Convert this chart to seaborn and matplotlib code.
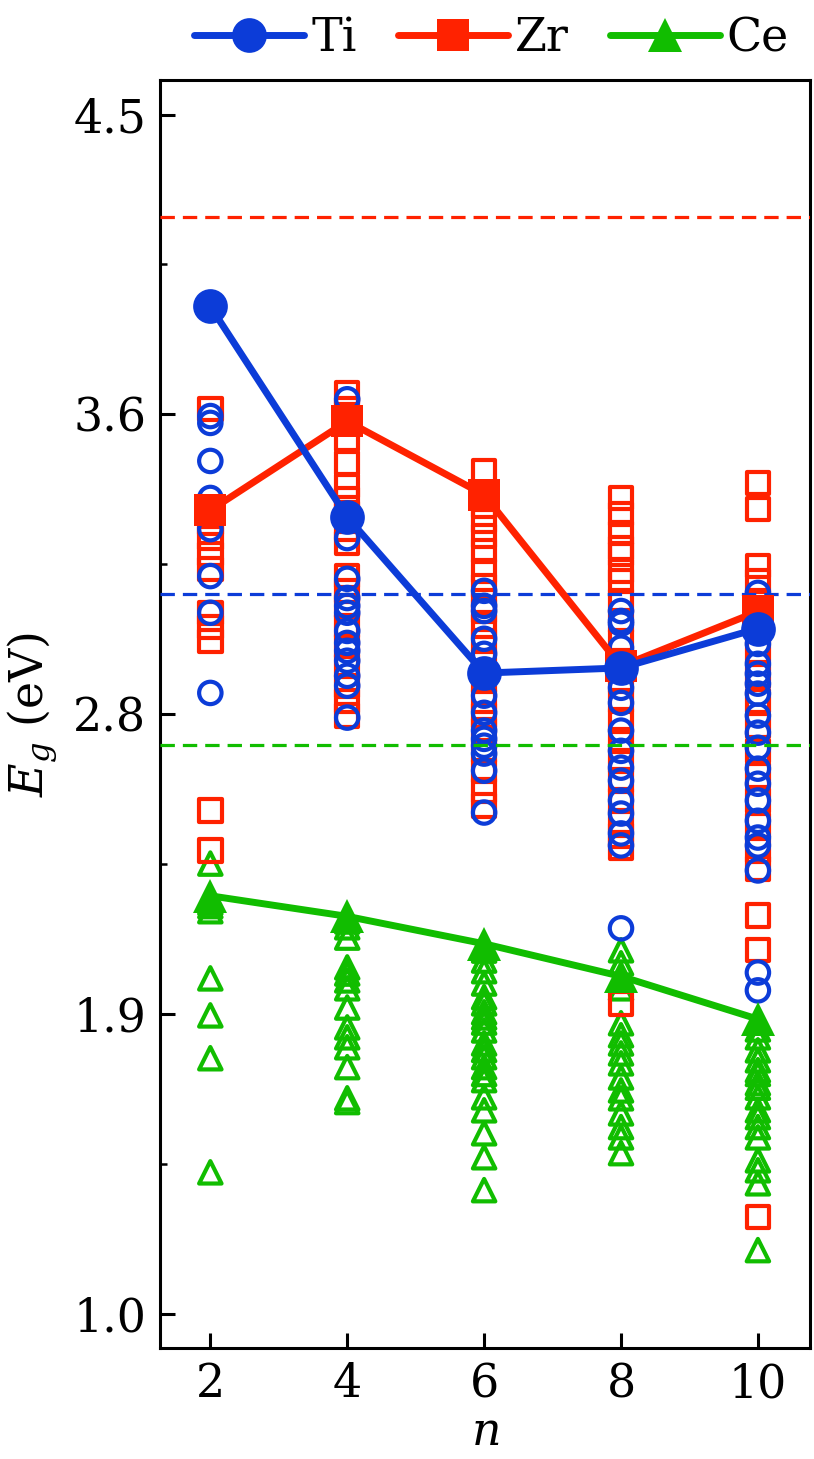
import numpy as np
import pandas as pd
import seaborn as sns
import matplotlib.pyplot as plt
from matplotlib.ticker import AutoMinorLocator, FormatStrFormatter

# %%
n_values = [2, 4, 6, 8, 10]

# lowest-energy structures (filled markers + line)
ti_best = [3.94, 3.325, 2.87, 2.885, 3.00]
zr_best = [3.345, 3.605, 3.39, 2.89, 3.05]
ce_best = [2.22, 2.16, 2.08, 1.985, 1.86]

# all sampled structures (open markers)
ti_all = {
    2: [3.62, 3.60, 3.489, 3.381, 3.29, 3.153, 3.046, 2.812],
    4: [3.669, 3.264, 3.145, 3.089, 3.066, 3.046, 2.993, 2.958, 2.935,
        2.906, 2.862, 2.833, 2.74],
    6: [3.11, 3.066, 3.051, 2.97, 2.926, 2.868, 2.804, 2.754, 2.702,
        2.678, 2.658, 2.635, 2.585, 2.463],
    8: [3.051, 3.022, 3.014, 2.944, 2.885, 2.827, 2.783, 2.702, 2.643,
        2.594, 2.556, 2.498, 2.46, 2.402, 2.367, 2.125],
    10: [3.104, 2.999, 2.955, 2.897, 2.868, 2.839, 2.81, 2.746, 2.696,
         2.652, 2.591, 2.547, 2.498, 2.439, 2.39, 2.367, 2.294, 1.996, 1.944],
}
zr_all = {
    2: [3.64, 3.308, 3.264, 3.218, 3.174, 3.046, 3.005, 2.964, 2.469, 2.352],
    4: [3.687, 3.64, 3.553, 3.483, 3.416, 3.378, 3.337, 3.29, 3.25, 3.153,
        3.11, 3.066, 3.008, 2.949, 2.891, 2.833, 2.789, 2.746],
    6: [3.459, 3.357, 3.314, 3.27, 3.226, 3.168, 3.124, 3.081, 3.051, 3.008,
        2.964, 2.906, 2.847, 2.789, 2.746, 2.702, 2.643, 2.585, 2.527, 2.483],
    8: [3.381, 3.334, 3.279, 3.235, 3.218, 3.168, 3.139, 3.081, 3.022,
        2.964, 2.906, 2.847, 2.789, 2.731, 2.673, 2.614, 2.556, 2.498,
        2.439, 2.396, 2.361, 1.906],
    10: [3.425, 3.349, 3.183, 3.139, 3.081, 3.008, 2.935, 2.862, 2.789,
         2.717, 2.643, 2.571, 2.498, 2.425, 2.352, 2.30, 2.163, 2.061, 1.282],
}
ce_all = {
    2: [2.314, 2.20, 2.19, 2.175, 1.979, 1.871, 1.746, 1.413],
    4: [2.145, 2.128, 2.098, 2.011, 1.993, 1.973, 1.95, 1.894, 1.836,
        1.807, 1.778, 1.72, 1.629, 1.618],
    6: [2.06, 2.031, 2.00, 1.964, 1.924, 1.906, 1.88, 1.865, 1.85, 1.827,
        1.789, 1.77, 1.749, 1.72, 1.70, 1.682, 1.632, 1.594, 1.527, 1.457, 1.361],
    8: [2.061, 2.023, 1.95, 1.848, 1.813, 1.789, 1.76, 1.731, 1.69, 1.652,
        1.629, 1.585, 1.545, 1.515, 1.469],
    10: [1.83, 1.807, 1.769, 1.74, 1.711, 1.70, 1.673, 1.66, 1.632, 1.594,
         1.574, 1.545, 1.515, 1.448, 1.419, 1.381, 1.186],
}

# reference gaps (dashed lines)
ti_ref = 3.10
zr_ref = 4.20
ce_ref = 2.66

blue = "#0c3cd8"
red = "#ff2200"
green = "#11bd00"


# %%
def to_long(points):
    rows = [(n, e) for n, vals in points.items() for e in vals]
    return pd.DataFrame(rows, columns=["n", "Eg"])


sns.set_style("ticks")
plt.rcParams["font.family"] = ["DejaVu Serif"]
plt.rcParams["mathtext.fontset"] = "dejavuserif"
for key in ["text.color", "axes.labelcolor", "xtick.color", "ytick.color", "axes.edgecolor"]:
    plt.rcParams[key] = "black"
fs = 33

fig = plt.figure(figsize=(8.14, 14.59), dpi=100)
ax = fig.add_axes([0.197, 0.076, 0.798, 0.869])

# open markers: every structure
for points, mk, col in [(ce_all, "^", green), (zr_all, "s", red), (ti_all, "o", blue)]:
    sns.scatterplot(
        data=to_long(points), x="n", y="Eg", ax=ax, marker=mk, s=260,
        facecolor="none", edgecolor=col, linewidth=3.0, zorder=2,
    )

# dashed reference lines
for ref, col in [(zr_ref, red), (ti_ref, blue), (ce_ref, green)]:
    ax.axhline(ref, color=col, ls=(0, (4.5, 2.5)), lw=2.3, zorder=3)

# lowest-energy lines
best = pd.DataFrame({"n": n_values, "Ti": ti_best, "Zr": zr_best, "Ce": ce_best})
for name, mk, col, ms in [("Zr", "s", red, 23), ("Ti", "o", blue, 25), ("Ce", "^", green, 25)]:
    sns.lineplot(
        data=best, x="n", y=name, ax=ax, marker=mk, markersize=ms,
        color=col, lw=5, markeredgewidth=0, label=name, zorder=4,
    )

handles, labels = ax.get_legend_handles_labels()
order = [labels.index(k) for k in ["Ti", "Zr", "Ce"]]
ax.legend(
    [handles[i] for i in order], [labels[i] for i in order],
    loc="lower center", bbox_to_anchor=(0.51, 1.015), ncol=3, frameon=False,
    fontsize=fs, handlelength=2.4, handletextpad=0.15, columnspacing=0.9,
    borderaxespad=0.0, borderpad=0.0,
)

ax.set_xlim(1.27, 10.76)
ax.set_ylim(0.9, 4.6)
ax.set_xticks(n_values)
ax.set_yticks(np.linspace(1.0, 4.5, 5))
ax.yaxis.set_major_formatter(FormatStrFormatter("%.1f"))
ax.yaxis.set_minor_locator(AutoMinorLocator(2))
ax.tick_params(axis="both", which="major", direction="in", length=11, width=2.2,
               labelsize=fs, pad=10)
ax.tick_params(axis="y", which="minor", direction="in", length=5, width=1.8)
for sp in ax.spines.values():
    sp.set_linewidth(2.2)

ax.set_xlabel("$n$", fontsize=fs, labelpad=2)
ax.set_ylabel("$E_g$ (eV)", fontsize=fs, labelpad=10)

plt.savefig("out.png", dpi=100)
